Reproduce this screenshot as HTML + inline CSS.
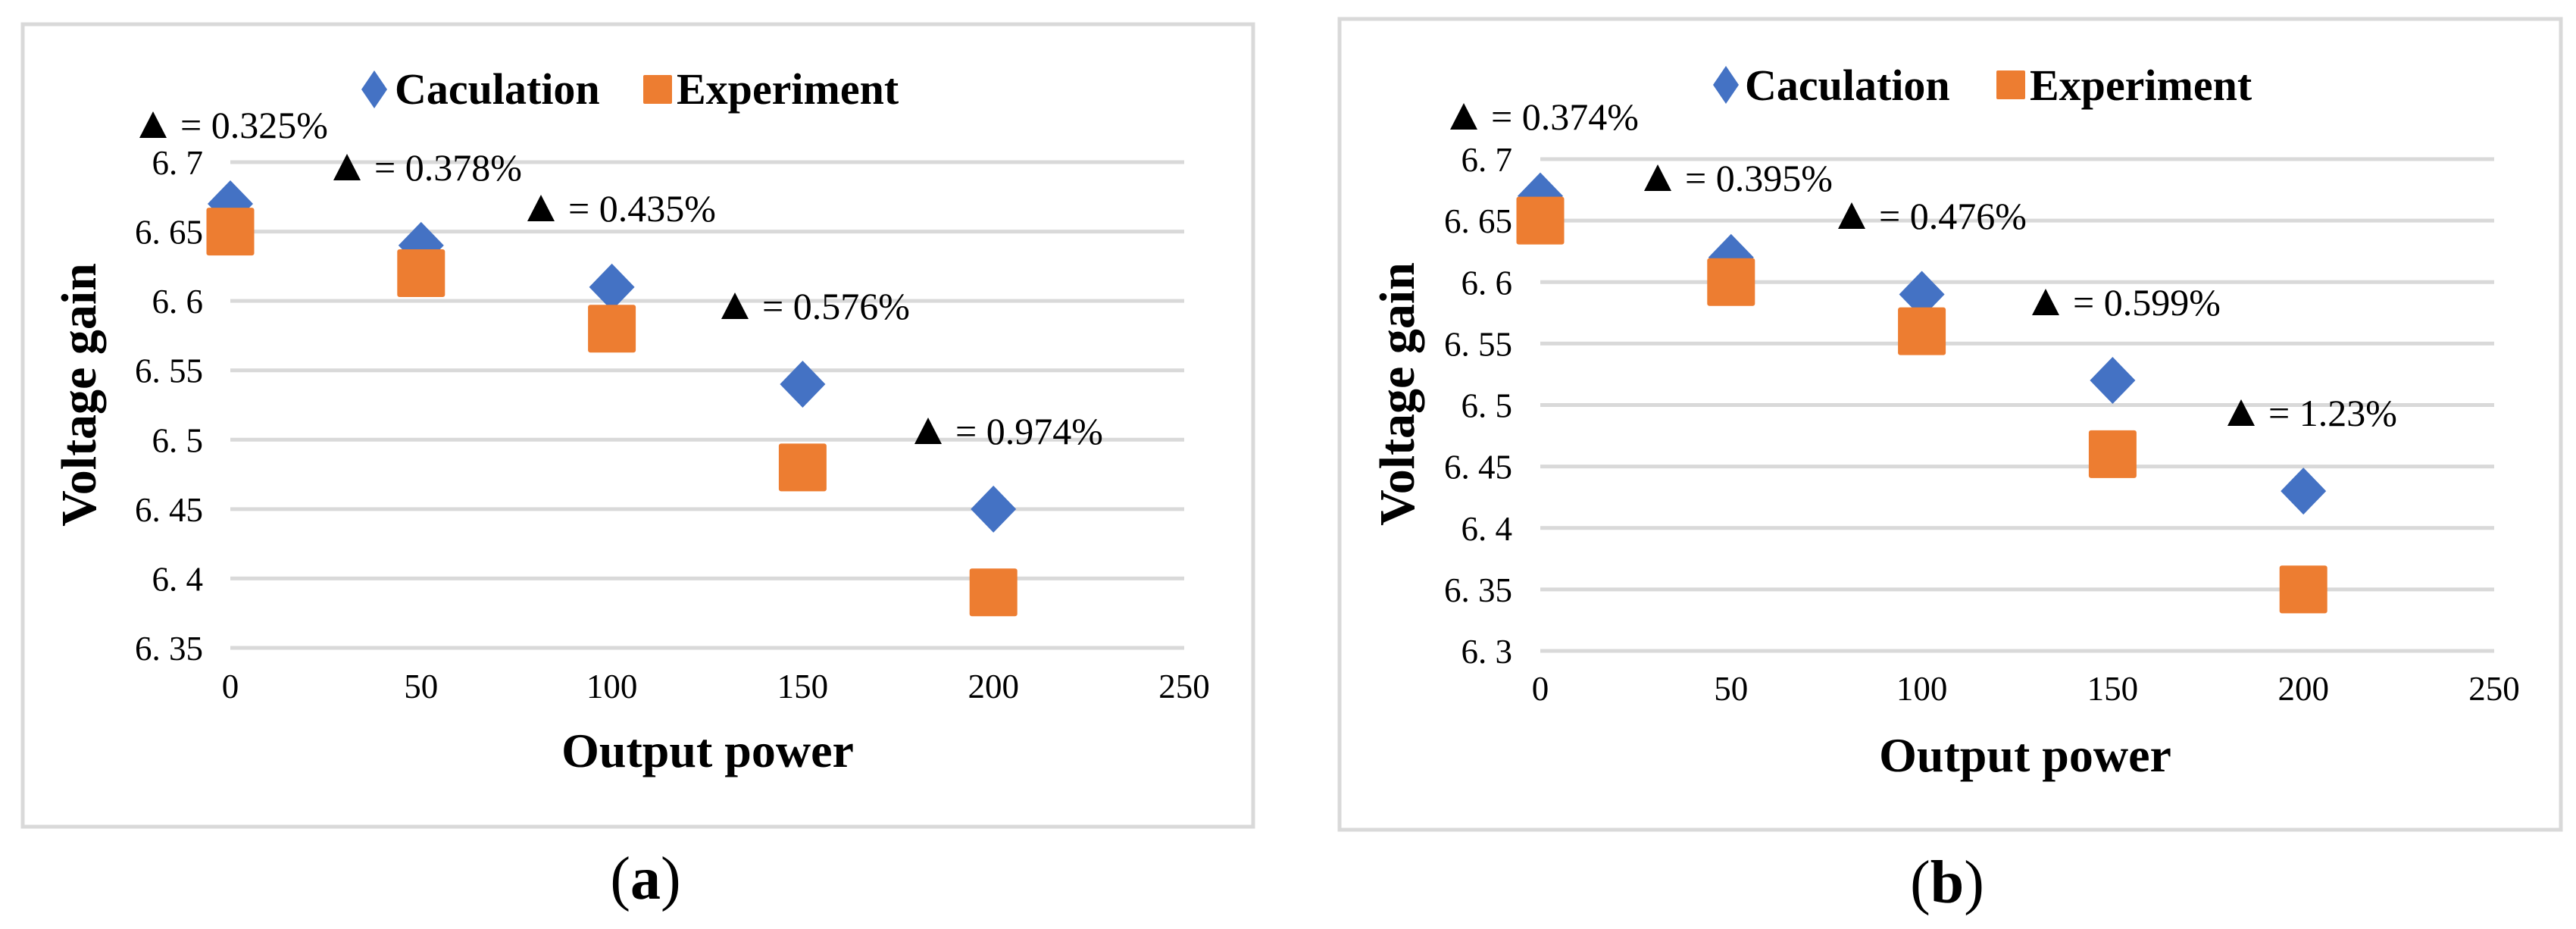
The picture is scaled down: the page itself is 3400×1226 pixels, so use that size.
<!DOCTYPE html>
<html><head><meta charset="utf-8"><style>
html,body{margin:0;padding:0;background:#fff;}
svg{display:block;}
text{font-family:"Liberation Serif","Noto Serif CJK SC","DejaVu Serif",serif;}
</style></head><body>
<svg id="fig" width="3400" height="1226" viewBox="0 0 3400 1226" xmlns="http://www.w3.org/2000/svg">
<rect x="0" y="0" width="3400" height="1226" fill="#fff"/>
</svg>
<script>
// Chart (a) data
const xCatsA = [0, 50, 100, 150, 200];
const calcA = [6.67, 6.64, 6.61, 6.54, 6.45];
const expA = [6.65, 6.62, 6.58, 6.48, 6.39];
const errLabelsA = ["0.325%", "0.378%", "0.435%", "0.576%", "0.974%"];
const yTicksA = [6.35, 6.4, 6.45, 6.5, 6.55, 6.6, 6.65, 6.7];
const yTickLabelsA = ["6. 35", "6. 4", "6. 45", "6. 5", "6. 55", "6. 6", "6. 65", "6. 7"];
// Chart (b) data
const xCatsB = [0, 50, 100, 150, 200];
const calcB = [6.67, 6.62, 6.59, 6.52, 6.43];
const expB = [6.65, 6.60, 6.56, 6.46, 6.35];
const errLabelsB = ["0.374%", "0.395%", "0.476%", "0.599%", "1.23%"];
const yTicksB = [6.3, 6.35, 6.4, 6.45, 6.5, 6.55, 6.6, 6.65, 6.7];
const yTickLabelsB = ["6. 3", "6. 35", "6. 4", "6. 45", "6. 5", "6. 55", "6. 6", "6. 65", "6. 7"];
const xTicks = [0, 50, 100, 150, 200, 250];

const NS = "http://www.w3.org/2000/svg";
const FONT = "'Liberation Serif', 'Noto Serif CJK SC', 'DejaVu Serif', serif";
const svg = document.getElementById("fig");
function mk(tag, attrs, parent, text) {
  const e = document.createElementNS(NS, tag);
  for (const k in attrs) e.setAttribute(k, attrs[k]);
  if (tag === "text") e.setAttribute("font-family", FONT);
  if (text !== undefined) e.textContent = text;
  (parent || svg).appendChild(e);
  return e;
}

function drawChart(cfg) {
  const g = mk("g", {});
  
  
  const frame = mk("rect", {x: cfg.box[0], y: cfg.box[1], width: cfg.box[2] - cfg.box[0], height: cfg.box[3] - cfg.box[1], fill: "#fff", stroke: "#d9d9d9", "stroke-width": 5}, g);
  
  
  const xs = v => cfg.x0 + v * (cfg.x1 - cfg.x0) / 250;
  const ys = v => cfg.yTop + (cfg.yMax - v) * (cfg.yBot - cfg.yTop) / (cfg.yMax - cfg.yMin);
  cfg.yTicks.forEach((t, i) => {
    const l = mk("line", {x1: cfg.x0, x2: cfg.x1, y1: ys(t), y2: ys(t), stroke: "#d9d9d9", "stroke-width": 5}, g);
    
    
    const tx = mk("text", {x: cfg.yLabelRight, y: ys(t) + 16, "text-anchor": "end", "font-size": 45}, g, cfg.yLabels[i]);
    
    
  });
  xTicks.forEach(t => {
    const tx = mk("text", {x: xs(t), y: cfg.xLabelBase, "text-anchor": "middle", "font-size": 45}, g, String(t));
    
    
  });
  cfg.calc.forEach((v, i) => {
    const cx = xs(cfg.cats[i]), cy = ys(v);
    const p = mk("polygon", {points: `${cx},${cy-31} ${cx+30},${cy} ${cx},${cy+31} ${cx-30},${cy}`, fill: "#4472c4"}, g);
    
    
  });
  cfg.exp.forEach((v, i) => {
    const cx = xs(cfg.cats[i]), cy = ys(v);
    const r = mk("rect", {x: cx - 31.5, y: cy - 31.5, width: 63, height: 63, rx: 3, fill: "#ed7d31"}, g);
    
    
  });
  cfg.errs.forEach((s, i) => {
    const tx = cfg.annX[i], by = cfg.annY[i];
    const tri = mk("polygon", {points: `${tx},${by} ${tx+36},${by} ${tx+18},${by-35}`, fill: "#000"}, g);
    
    
    const t = mk("text", {x: tx + 54, y: by, "font-size": 50}, g, "= " + s);
    
    
  });
  const L = cfg.legend;
  const ld = mk("polygon", {points: `${L.dx},${L.y-25} ${L.dx+17},${L.y} ${L.dx},${L.y+25} ${L.dx-17},${L.y}`, fill: "#4472c4"}, g);
  
  
  const lt1 = mk("text", {x: L.t1, y: L.base, "font-size": 58, "font-weight": "bold"}, g, "Caculation");
  
  
  const ls = mk("rect", {x: L.sx, y: L.y - 19, width: 38, height: 38, rx: 2, fill: "#ed7d31"}, g);
  
  
  const lt2 = mk("text", {x: L.t2, y: L.base, "font-size": 58, "font-weight": "bold"}, g, "Experiment");
  
  
  const xt = mk("text", {x: cfg.xTitle[0], y: cfg.xTitle[1], "text-anchor": "middle", "font-size": 64, "font-weight": "bold"}, g, "Output power");
  
  
  const yt = mk("text", {x: 0, y: 0, "text-anchor": "middle", "font-size": 66, "font-weight": "bold", transform: `translate(${cfg.yTitle[0]},${cfg.yTitle[1]}) rotate(-90)`}, g, "Voltage gain");
  
  
  const cap = mk("text", {x: cfg.caption[0], y: cfg.caption[1], "text-anchor": "middle", "font-size": 80}, g);
  
  
  mk("tspan", {}, cap, "(");
  mk("tspan", {"font-weight": "bold"}, cap, cfg.letter);
  mk("tspan", {}, cap, ")");
}

drawChart({
  name: "chart-a", box: [30, 32, 1654, 1091],
  x0: 304, x1: 1563, yTop: 214, yBot: 855, yMax: 6.7, yMin: 6.35,
  yTicks: yTicksA, yLabels: yTickLabelsA, yLabelRight: 268, xLabelBase: 921,
  cats: xCatsA, calc: calcA, exp: expA, errs: errLabelsA,
  annX: [184, 440, 696, 952, 1207], annY: [182, 238, 292, 421, 586],
  legend: {dx: 494, y: 118, t1: 521, sx: 849, t2: 893, base: 137},
  xTitle: [934, 1012], yTitle: [126, 521], caption: [852, 1186], letter: "a"
});
drawChart({
  name: "chart-b", box: [1768, 25, 3380, 1095],
  x0: 2033, x1: 3292, yTop: 210, yBot: 859, yMax: 6.7, yMin: 6.3,
  yTicks: yTicksB, yLabels: yTickLabelsB, yLabelRight: 1996, xLabelBase: 924,
  cats: xCatsB, calc: calcB, exp: expB, errs: errLabelsB,
  annX: [1914, 2170, 2426, 2682, 2940], annY: [171, 252, 302, 416, 562],
  legend: {dx: 2278, y: 112, t1: 2303, sx: 2635, t2: 2679, base: 132},
  xTitle: [2673, 1018], yTitle: [1866, 520], caption: [2570, 1191], letter: "b"
});
</script>
</body></html>
